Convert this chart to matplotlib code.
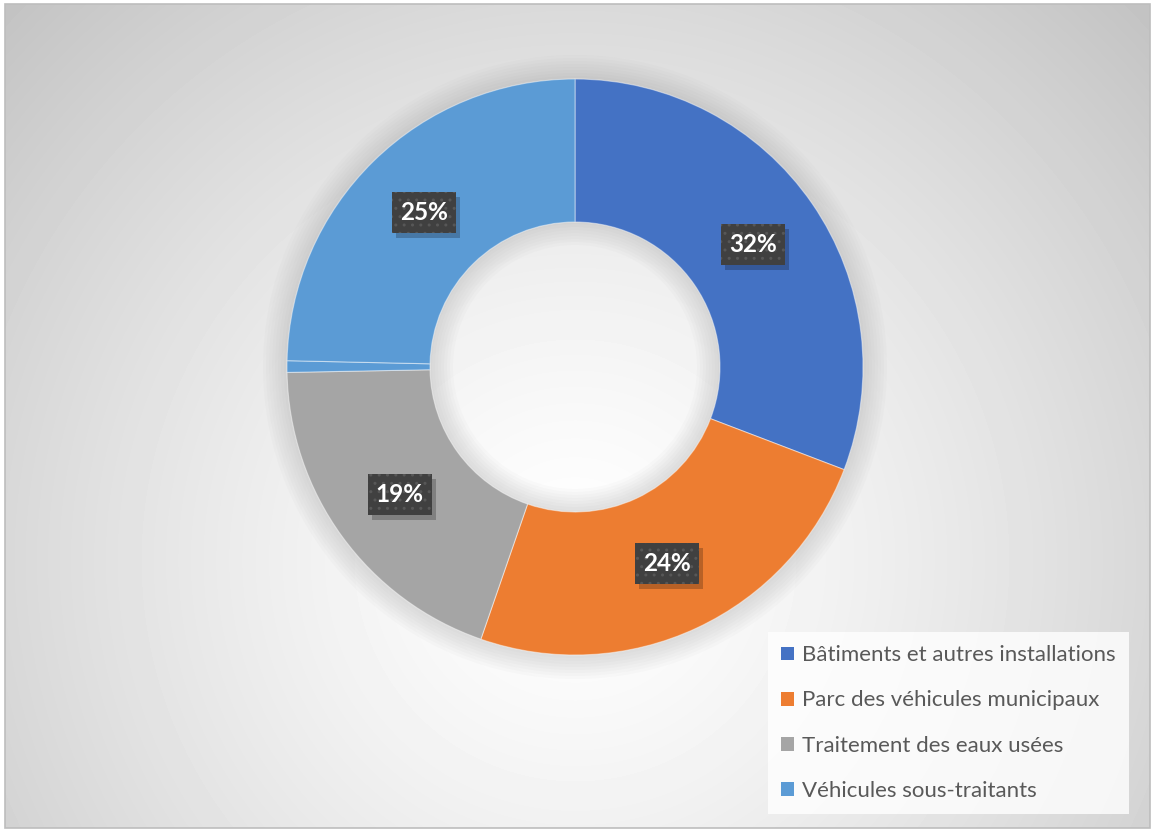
import matplotlib
matplotlib.use("Agg")

import numpy as np
import matplotlib.pyplot as plt
from matplotlib.patches import Rectangle, Wedge

# data (shares read off the ring; the thin sliver before the last slice has no label)
categories = ["Bâtiments et autres installations", "Parc des véhicules municipaux",
              "Traitement des eaux usées", "", "Véhicules sous-traitants"]
values = [30.8, 24.5, 19.4, 0.65, 24.65]
labels = ["32%", "24%", "19%", "", "25%"]
colors = ["#4472C4", "#ED7D31", "#A5A5A5", "#5B9BD5", "#5B9BD5"]

plt.rcParams["hatch.linewidth"] = 1.0

W, H = 1153, 831
fig = plt.figure(figsize=(W / 100, H / 100), dpi=100)
fig.patch.set_facecolor("white")
ax = fig.add_axes([0, 0, 1, 1])

# radial grey background (Excel style)
yy, xx = np.mgrid[4:828, 5:1150]
d = np.sqrt((xx - 575.0) ** 2 + (yy - 560.0) ** 2) / 805.0
bg = 1 - 0.24 * np.clip(d, 0, 1.1) ** 1.33
ax.imshow(bg, cmap="gray", vmin=0, vmax=1, extent=(5, 1150, H - 828, H - 4),
          origin="upper", zorder=0, interpolation="bilinear")
ax.add_patch(Rectangle((5, H - 828), 1145, 824, fill=False, ec="#bdbdbd", lw=1.2, zorder=1))

cx, cy = 575, H - 367
R, w = 288, 143

# soft glow around the ring
for k in range(1, 9):
    ax.add_patch(Wedge((cx, cy), R + 3 * k, 0, 360, width=3 * k + 2, fc="#909090",
                       ec="none", alpha=0.035, zorder=1))
    ax.add_patch(Wedge((cx, cy), R - w + 1, 0, 360, width=3 * k, fc="#909090",
                       ec="none", alpha=0.035, zorder=1))

wedges, _ = ax.pie(values, colors=colors, startangle=90, counterclock=False,
                   radius=R, center=(cx, cy),
                   wedgeprops=dict(width=w, edgecolor=(1, 1, 1, 0.45), linewidth=0.8))
for wd in wedges:
    wd.set_zorder(3)

# data labels in dark patterned boxes
rm = R - w / 2
bw, bh = 64, 41
for wd, lab in zip(wedges, labels):
    if not lab:
        continue
    th = np.deg2rad((wd.theta1 + wd.theta2) / 2)
    x, y = cx + rm * np.cos(th), cy + rm * np.sin(th)
    ax.add_patch(Rectangle((x - bw / 2 + 4, y - bh / 2 - 5), bw, bh, fc="black",
                           ec="none", alpha=0.22, zorder=4))
    ax.add_patch(Rectangle((x - bw / 2, y - bh / 2), bw, bh, fc="#404040",
                           ec="#575757", lw=0, hatch="..", zorder=5))
    ax.text(x, y, lab, ha="center", va="center", color="white", fontsize=17.5,
            fontweight="bold", family="Lato", zorder=6)

ax.set_xlim(0, W)
ax.set_ylim(0, H)
ax.set_aspect("auto")
ax.axis("off")

handles = [wedges[i] for i in range(len(values)) if categories[i]]
names = [c for c in categories if c]
handles = [Rectangle((0, 0), 1, 1, fc=h.get_facecolor(), ec="none") for h in handles]
leg = fig.legend(handles, names, loc="upper left", bbox_to_anchor=(768 / W, 1 - 632 / H),
                 frameon=True, fancybox=False, prop={"family": "Lato", "size": 16},
                 handlelength=0.59, handleheight=0.59, handletextpad=0.36,
                 labelspacing=1.13, borderpad=0.6, borderaxespad=0)
leg.get_frame().set_facecolor((1, 1, 1, 0.45))
leg.get_frame().set_edgecolor("none")
for t in leg.get_texts():
    t.set_color("#595959")

fig.savefig("out.png", dpi=100)
